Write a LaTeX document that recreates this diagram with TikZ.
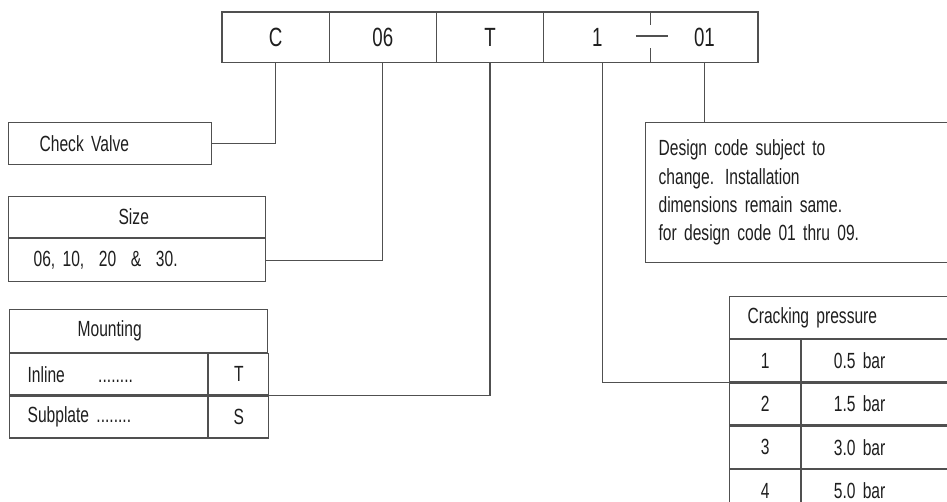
\documentclass[tikz,border=0pt]{standalone}
\usepackage{fontspec}
\setmainfont{Liberation Sans}[FakeStretch=0.71]
\usetikzlibrary{positioning,calc}
\definecolor{LineClr}{RGB}{80,80,80}
\definecolor{TextClr}{RGB}{30,30,30}
\newcommand{\txt}{\fontsize{12.5}{16.2}\selectfont\spaceskip=3pt plus 1pt minus 0.5pt\relax}
\newcommand{\codetxt}{\fontsize{15}{16}\selectfont}

\begin{document}
\begin{tikzpicture}[x=0.02cm,y=-0.02cm,line width=0.7pt,
  codecell/.style={inner sep=0pt,minimum width=2.12cm,minimum height=0.98cm,
    font=\codetxt,text=TextClr},
  box/.style={draw=LineClr,inner ysep=0pt,font=\txt,text=TextClr,align=left},
  cbox/.style={draw=LineClr,inner sep=0pt,font=\txt,text=TextClr}]
\useasboundingbox (0,0) rectangle (947,502);
\clip (0,0) rectangle (947,502);

% ordering code
\node[codecell,anchor=north west] (c) at (222,12) {C};
\node[codecell,right=0pt of c] (n06) {06};
\node[codecell,right=0pt of n06] (t) {T};
\node[codecell,right=0pt of t] (n1) {1};
\node[codecell,right=0pt of n1] (n01) {01};

\draw[LineClr] (c.north west) rectangle (n01.south east);
\foreach \a in {c,n06,t}
  \draw[LineClr] (\a.north east) -- (\a.south east);
\draw[LineClr] (n1.north east) -- ++(0,13);
\draw[LineClr] (n1.south east) -- ++(0,-14);
\draw[LineClr] ($(n1.east)+(-15,-1)$) -- ++(32,0);

% check valve
\node[box,anchor=north west,minimum width=4.06cm,minimum height=0.84cm,
  inner xsep=0.62cm,text width=2.82cm] (cv) at (8,122) {Check Valve};

% size
\node[box,anchor=north west,minimum width=5.14cm,minimum height=0.82cm,
  inner xsep=2.2cm,text width=0.74cm] (sizehd) at (8,196) {Size};
\node[box,below=0pt of sizehd,minimum width=5.14cm,minimum height=0.86cm,
  inner xsep=0.5cm,text width=4.14cm] (sizeval) {06, 10,\ \ 20\ \ \&\ \ 30.};

% mounting
\node[box,anchor=north west,minimum width=5.16cm,minimum height=0.86cm,
  inner xsep=1.36cm,text width=2.44cm] (mthd) at (9,309) {Mounting};
\node[box,below right=0pt and 0pt of mthd.south west,minimum width=3.96cm,
  minimum height=0.82cm,inner xsep=0.36cm,text width=3.24cm] (mtin)
  {Inline\hspace{19pt}........};
\node[cbox,right=0pt of mtin,minimum width=1.2cm,minimum height=0.82cm] (mtT) {T};
\node[box,below=0pt of mtin,minimum width=3.96cm,minimum height=0.84cm,
  inner xsep=0.36cm,text width=3.24cm] (mtsub) {Subplate ........};
\node[cbox,right=0pt of mtsub,minimum width=1.2cm,minimum height=0.84cm] (mtS) {S};

% design code
\node[box,anchor=north west,minimum width=6.4cm,minimum height=2.8cm,
  inner xsep=0.26cm,text width=5.88cm] (design) at (645,122)
  {Design code subject to\\change. Installation\\dimensions remain same.\\for design code 01 thru 09.};

% cracking pressure
\node[box,anchor=north west,minimum width=4.6cm,minimum height=0.84cm,
  inner xsep=0.36cm,text width=3.88cm] (crhd) at (729,296) {Cracking pressure};
\node[cbox,below right=0pt and 0pt of crhd.south west,minimum width=1.42cm,
  minimum height=0.84cm] (k1) {1};
\node[box,right=0pt of k1,minimum width=3.2cm,minimum height=0.84cm,
  inner xsep=0.64cm,text width=1.92cm] (v1) {0.5 bar};
\foreach \n/\v [remember=\n as \p (initially 1)] in {2/1.5,3/3.0,4/5.0}{
  \node[cbox,below=0pt of k\p,minimum width=1.42cm,minimum height=0.84cm] (k\n) {\n};
  \node[box,right=0pt of k\n,minimum width=3.2cm,minimum height=0.84cm,
    inner xsep=0.64cm,text width=1.92cm] (v\n) {\v\ bar};
}

% leaders
\draw[LineClr] (cv.east) -| (c.south);
\draw[LineClr] (sizeval.east) -| (n06.south);
\draw[LineClr] (mtT.south east) -| (t.south);
\draw[LineClr] ([xshift=0.1cm]n1.south) |- (k1.south west);
\draw[LineClr] (n01.south) -- (n01.south |- design.north);

\end{tikzpicture}
\end{document}
